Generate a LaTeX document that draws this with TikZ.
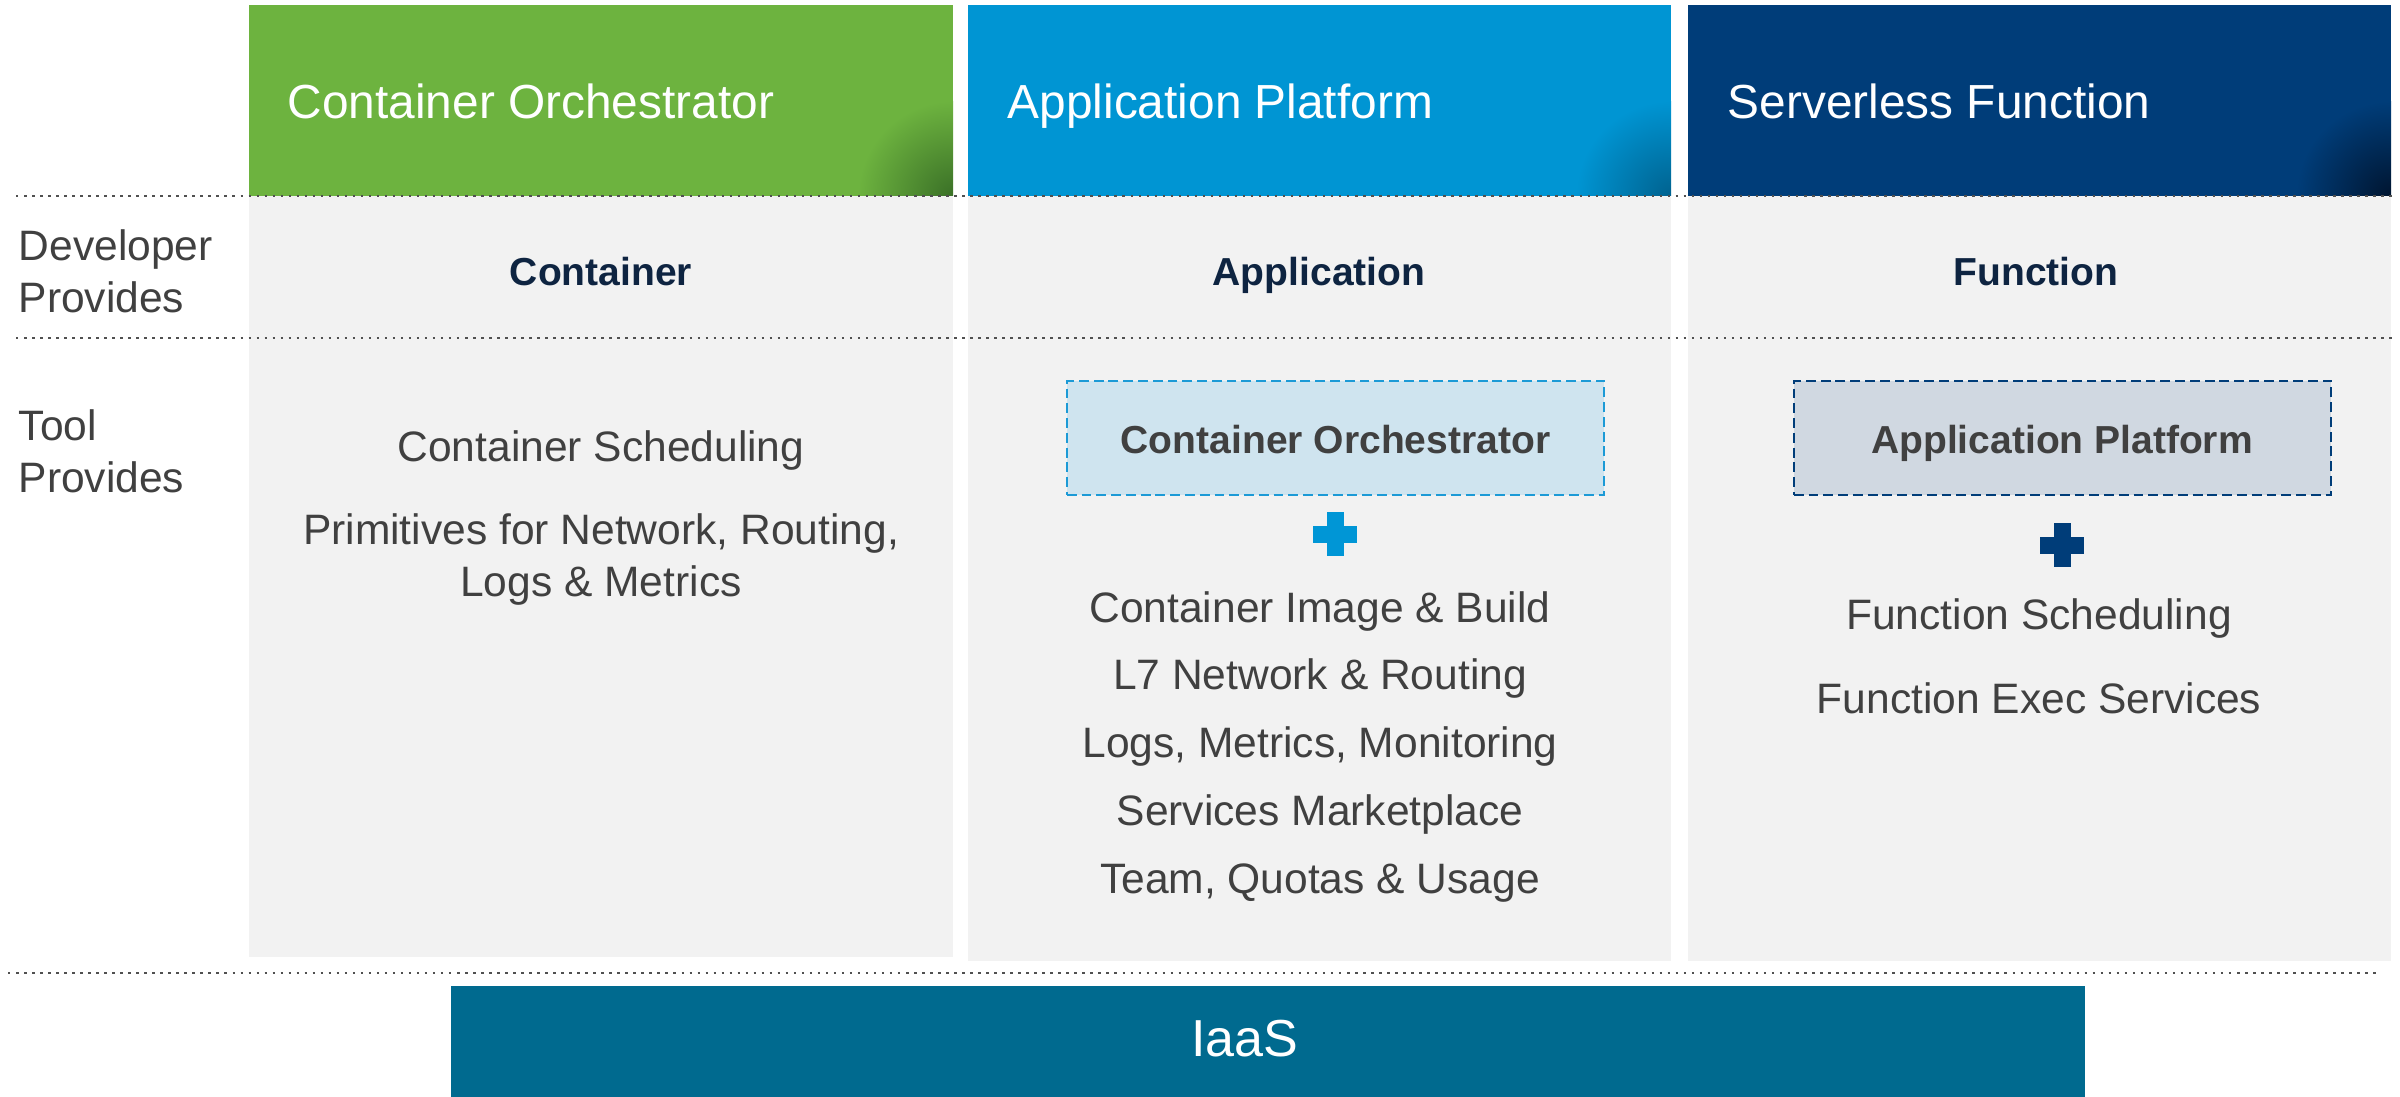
\documentclass[tikz,border=0pt]{standalone}
\usepackage{fontspec}
\setmainfont{Liberation Sans}
\definecolor{hgreen}{HTML}{6DB33F}
\definecolor{hgreendk}{HTML}{3A7027}
\definecolor{hblue}{HTML}{0095D3}
\definecolor{hbluedk}{HTML}{00628F}
\definecolor{hnavy}{HTML}{003D79}
\definecolor{hnavydk}{HTML}{001530}
\definecolor{panelgray}{HTML}{F2F2F2}
\definecolor{iaas}{HTML}{006A8F}
\definecolor{txtgray}{HTML}{404040}
\definecolor{boldnavy}{HTML}{0E2441}
\definecolor{boxblue}{HTML}{CFE4EF}
\definecolor{boxblueln}{HTML}{1C9AD6}
\definecolor{boxnavy}{HTML}{D0D8E1}
\definecolor{plusblue}{HTML}{0096D6}
\definecolor{dotgray}{HTML}{505050}
\begin{document}
\begin{tikzpicture}[x=0.01cm,y=-0.01cm,
  hdrtext/.style={anchor=base west, text=white, font=\fontsize{13.6}{16}\selectfont, inner sep=0pt},
  lbl/.style={anchor=base west, text=txtgray, font=\fontsize{12.1}{14}\selectfont, inner sep=0pt},
  devtxt/.style={anchor=base, text=boldnavy, font=\bfseries\fontsize{11.1}{13}\selectfont, inner sep=0pt},
  boxtxt/.style={anchor=base, text=txtgray, font=\bfseries\fontsize{11.1}{13}\selectfont, inner sep=0pt},
  item/.style={anchor=base, text=txtgray, font=\fontsize{12.1}{14}\selectfont, inner sep=0pt},
  dbox/.style={line width=0.6pt, dash pattern=on 2.8pt off 1.4pt, minimum width=5.37cm, minimum height=1.14cm, inner sep=0pt},
  dots/.style={draw=dotgray, line width=0.71pt, dash pattern=on 0.71pt off 1.57pt},
  iaastxt/.style={text=white, font=\fontsize{14.8}{17}\selectfont, inner sep=0pt, anchor=base},
]
\useasboundingbox (0,0) rectangle (2400,1097);

% column headers with darkened lower-right corner
\fill[hgreen] (249,5) rectangle (953,196);
\begin{scope}
  \clip (249,5) rectangle (953,196);
  \shade[inner color=hgreendk, outer color=hgreen] (953,196) circle[radius=0.95cm];
\end{scope}
\fill[hblue] (968,5) rectangle (1671,196);
\begin{scope}
  \clip (968,5) rectangle (1671,196);
  \shade[inner color=hbluedk, outer color=hblue] (1671,196) circle[radius=0.95cm];
\end{scope}
\fill[hnavy] (1688,5) rectangle (2391,196);
\begin{scope}
  \clip (1688,5) rectangle (2391,196);
  \shade[inner color=hnavydk, outer color=hnavy] (2391,196) circle[radius=0.95cm];
\end{scope}

\node[hdrtext] (h1) at (287,119) {Container Orchestrator};
\node[hdrtext] (h2) at (1007,119) {Application Platform};
\node[hdrtext] (h3) at (1727,119) {Serverless Function};

% column bodies
\fill[panelgray] (249,196) rectangle (953,957);
\fill[panelgray] (968,196) rectangle (1671,961);
\fill[panelgray] (1688,196) rectangle (2391,961);

% row separators
\draw[dots] (16,196) -- (2395,196);
\draw[dots] (16,338) -- (2395,338);
\draw[dots] (8,973) -- (2380,973);

% row labels
\node[lbl] (dev1) at (18,261) {Developer};
\node[lbl] (dev2) at (18,312) {Provides};
\node[lbl] (tool1) at (18,440) {Tool};
\node[lbl] (tool2) at (18,492) {Provides};

% developer provides
\node[devtxt] (d1) at (601,285) {Container};
\node[devtxt] (d2) at (1319,285) {Application};
\node[devtxt] (d3) at (2036,285) {Function};

% tool provides: container orchestrator
\node[item] (c1) at (601,461) {Container Scheduling};
\node[item] (c2) at (601,544) {Primitives for Network, Routing,};
\node[item] (c3) at (601,596) {Logs \& Metrics};

% tool provides: application platform
\node[dbox, draw=boxblueln, fill=boxblue] (box2) at (1335.5,438) {};
\node[boxtxt] (box2t) at (1335.5,453) {Container Orchestrator};
\coordinate (plus2) at (1335,534);
\fill[plusblue] ([shift={(-22,-8.5)}]plus2) rectangle ([shift={(22,8.5)}]plus2);
\fill[plusblue] ([shift={(-8.5,-22)}]plus2) rectangle ([shift={(8.5,22)}]plus2);
\node[item] (a1) at (1320,622) {Container Image \& Build};
\node[item] (a2) at (1320,689) {L7 Network \& Routing};
\node[item] (a3) at (1320,757) {Logs, Metrics, Monitoring};
\node[item] (a4) at (1320,825) {Services Marketplace};
\node[item] (a5) at (1320,893) {Team, Quotas \& Usage};

% tool provides: serverless function
\node[dbox, draw=hnavy, fill=boxnavy] (box3) at (2062.5,438) {};
\node[boxtxt] (box3t) at (2062,453) {Application Platform};
\coordinate (plus3) at (2062,545);
\fill[hnavy] ([shift={(-22,-8.5)}]plus3) rectangle ([shift={(22,8.5)}]plus3);
\fill[hnavy] ([shift={(-8.5,-22)}]plus3) rectangle ([shift={(8.5,22)}]plus3);
\node[item] (f1) at (2039,629) {Function Scheduling};
\node[item] (f2) at (2039,713) {Function Exec Services};

% infrastructure base
\fill[iaas] (451,986) rectangle (2085,1097);
\node[iaastxt] (iaas) at (1245,1056) {IaaS};
\end{tikzpicture}
\end{document}
